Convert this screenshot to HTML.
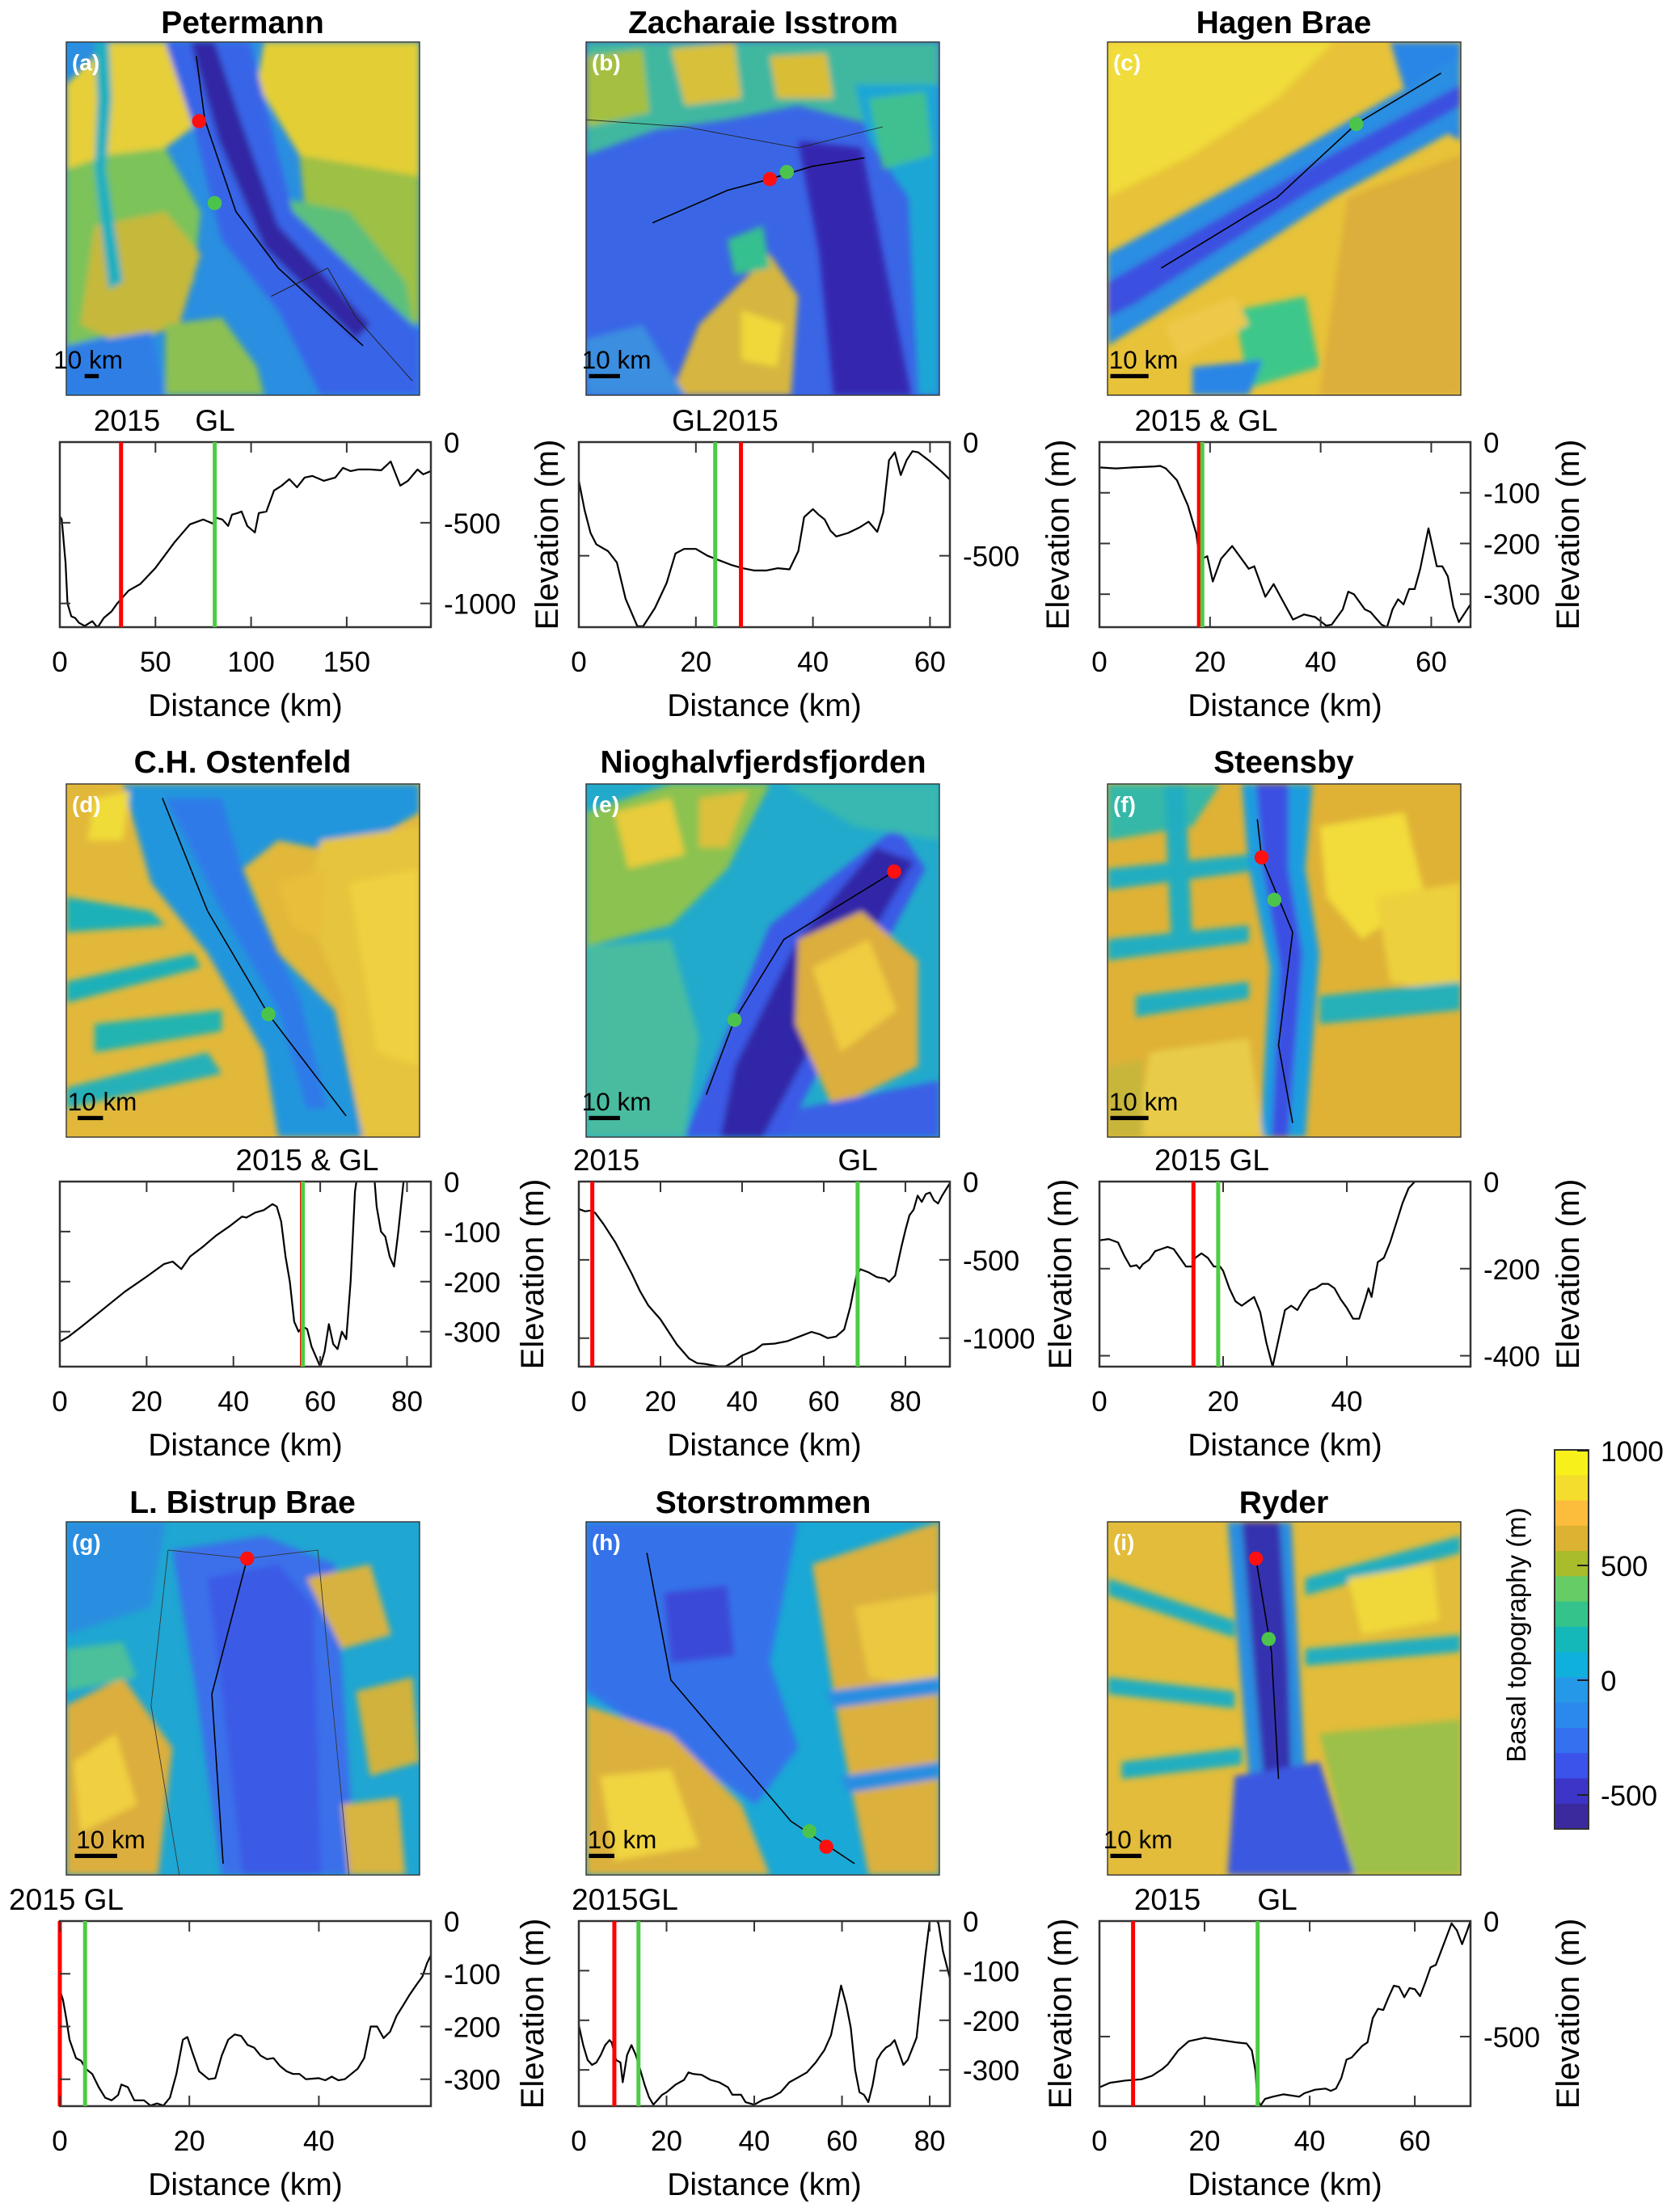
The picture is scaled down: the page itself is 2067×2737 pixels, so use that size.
<!DOCTYPE html>
<html><head><meta charset="utf-8"><style>
html,body{margin:0;padding:0;background:#fff}
svg{display:block;font-family:"Liberation Sans",Arial,sans-serif}
</style></head><body>
<svg id="fig" xmlns="http://www.w3.org/2000/svg" width="2067" height="2737" viewBox="0 0 2067 2737">
<defs>
<filter id="soft" x="-5%" y="-5%" width="110%" height="110%"><feGaussianBlur stdDeviation="2.2"/></filter>
<clipPath id="mclip"><rect x="0" y="0" width="250" height="250"/></clipPath>
</defs>
<g id="titles" font-weight="bold" font-size="39" text-anchor="middle">
<text x="300" y="41">Petermann</text>
<text x="944" y="41">Zacharaie Isstrom</text>
<text x="1588" y="41">Hagen Brae</text>
<text x="300" y="956">C.H. Ostenfeld</text>
<text x="944" y="956">Nioghalvfjerdsfjorden</text>
<text x="1588" y="956">Steensby</text>
<text x="300" y="1872">L. Bistrup Brae</text>
<text x="944" y="1872">Storstrommen</text>
<text x="1588" y="1872">Ryder</text>
</g>

<!-- Map (a) -->
<g transform="translate(82,52) scale(1.748)">
<g clip-path="url(#mclip)">
<rect width="250" height="250" fill="#2a8fe0"/>
<g filter="url(#soft)">
<polygon points="0,30 30,0 95,0 90,60 70,75 30,80 0,90" fill="#e6cf38"/>
<polygon points="0,90 30,80 70,75 95,120 90,170 60,200 0,215" fill="#7cc35a"/>
<polygon points="20,130 70,120 95,150 80,200 40,215 10,200" fill="#c6b83a"/>
<polygon points="70,200 110,195 135,230 140,250 70,250" fill="#8cc052"/>
<polygon points="0,215 60,205 70,250 0,250" fill="#2f7ee6"/>
<polygon points="140,0 250,0 250,110 200,100 165,80 135,30" fill="#e3cf36"/>
<polygon points="165,80 250,95 250,200 210,180 170,130" fill="#9ec044"/>
<polygon points="150,110 200,120 240,170 250,220 200,210 160,160" fill="#5cc07a"/>
<polygon points="160,160 250,210 250,250 190,250" fill="#2f7ee6"/>
<polygon points="20,0 30,0 32,40 28,90 40,170 30,175 20,90 22,40" fill="#1fb0bf"/>
<polygon points="70,0 130,0 160,120 250,205 250,250 180,250 150,190 110,140 90,60" fill="#3765e8"/>
<polygon points="88,0 105,0 125,60 150,130 215,200 205,210 140,145 108,70" fill="#3327a4"/>
</g>
<polyline points="92,10 98,55 120,120 150,160 210,215" fill="none" stroke="#000" stroke-width="0.9"/>
<polyline points="145,180 175,165 185,160 205,195 245,240" fill="none" stroke="#222" stroke-width="0.6"/>
<circle cx="94" cy="56" r="5" fill="#ff1010"/><circle cx="105" cy="114" r="5" fill="#4cc44c"/>
</g>
<rect width="250" height="250" fill="none" stroke="#333" stroke-width="0.8"/>
<text x="4" y="20" font-size="16" font-weight="bold" fill="#fff">(a)</text>
<text x="-9" y="231" font-size="18">10 km</text><rect x="13" y="235" width="10" height="3" fill="#000"/>
</g>

<!-- Map (b) -->
<g transform="translate(725,52) scale(1.748)">
<g clip-path="url(#mclip)">
<rect width="250" height="250" fill="#3a66e6"/>
<g filter="url(#soft)">
<polygon points="0,0 250,0 250,45 200,58 150,45 100,55 50,62 0,80" fill="#3fb8a0"/>
<polygon points="60,5 105,0 110,40 70,45" fill="#d8c03a"/>
<polygon points="130,10 170,8 175,40 135,40" fill="#d9bd36"/>
<polygon points="0,10 40,5 45,50 0,60" fill="#a5c040"/>
<polygon points="190,30 250,30 250,250 235,250 228,110 200,70" fill="#1ea6d6"/>
<polygon points="150,70 195,75 230,250 175,250 165,150" fill="#3528b0"/>
<polygon points="80,200 130,150 150,180 145,250 60,250" fill="#d6b640"/>
<polygon points="110,190 140,200 135,230 110,225" fill="#f0d83a"/>
<polygon points="0,210 40,200 70,250 0,250" fill="#3a8ee0"/>
<polygon points="100,140 125,130 130,160 105,165" fill="#36c090"/>
<polygon points="200,40 240,35 245,80 210,90" fill="#40c090"/>
</g>
<polyline points="47,128 100,105 130,97 160,88 197,82" fill="none" stroke="#000" stroke-width="0.9"/>
<polyline points="0,55 70,60 150,75 210,60" fill="none" stroke="#222" stroke-width="0.5"/>
<circle cx="130" cy="97" r="5" fill="#ff1010"/><circle cx="142" cy="92" r="5" fill="#4cc44c"/>
</g>
<rect width="250" height="250" fill="none" stroke="#333" stroke-width="0.8"/>
<text x="4" y="20" font-size="16" font-weight="bold" fill="#fff">(b)</text>
<text x="-3" y="231" font-size="18">10 km</text><rect x="2" y="235" width="22" height="3" fill="#000"/>
</g>

<!-- Map (c) -->
<g transform="translate(1370,52) scale(1.748)">
<g clip-path="url(#mclip)">
<rect width="250" height="250" fill="#e8c238"/>
<g filter="url(#soft)">
<polygon points="0,0 160,0 120,40 60,80 0,110" fill="#f0dc3a"/>
<polygon points="200,0 250,0 250,70 215,50" fill="#2a86e6"/>
<polygon points="0,150 120,85 250,10 250,60 160,110 40,190 0,215" fill="#2b8ee2"/>
<polygon points="0,170 130,95 250,30 250,45 140,108 20,185 0,195" fill="#3a50e0"/>
<polygon points="170,110 250,80 250,250 150,250" fill="#dcae3a"/>
<polygon points="90,190 140,180 150,230 100,245" fill="#3ec78a"/>
<polygon points="60,230 110,225 100,250 60,250" fill="#2a86e6"/>
<polygon points="40,200 90,180 100,200 50,225" fill="#eec84a"/>
</g>
<polyline points="38,160 120,110 176,58 236,22" fill="none" stroke="#000" stroke-width="0.9"/>
<circle cx="176" cy="58" r="5" fill="#4cc44c"/>
</g>
<rect width="250" height="250" fill="none" stroke="#333" stroke-width="0.8"/>
<text x="4" y="20" font-size="16" font-weight="bold" fill="#fff">(c)</text>
<text x="1" y="231" font-size="18">10 km</text><rect x="2" y="235" width="27" height="3" fill="#000"/>
</g>

<!-- Map (d) -->
<g transform="translate(82,970) scale(1.748)">
<g clip-path="url(#mclip)">
<rect width="250" height="250" fill="#e2b83a"/>
<g filter="url(#soft)">
<polygon points="40,0 250,0 250,20 200,50 150,40 125,60 150,120 190,160 210,250 150,250 140,190 100,120 60,70" fill="#2096dc"/>
<polygon points="70,10 110,10 130,80 165,150 185,230 170,230 150,160 110,90" fill="#2f7ae8"/>
<polygon points="0,80 60,90 70,100 0,105" fill="#1eb0b8"/>
<polygon points="0,140 90,120 95,130 0,155" fill="#1eb0b8"/>
<polygon points="20,170 110,160 110,175 20,190" fill="#22b4b0"/>
<polygon points="0,215 100,190 110,205 0,230" fill="#28b0b8"/>
<polygon points="180,40 250,30 250,250 210,250 195,150 170,90" fill="#e6c43c"/>
<polygon points="200,70 250,60 250,200 220,190" fill="#eed040"/>
<polygon points="150,70 185,60 180,110 160,100" fill="#e8bf3a"/>
<polygon points="20,10 45,5 40,40 15,40" fill="#f0dc38"/>
</g>
<polyline points="68,10 100,90 143,163 198,235" fill="none" stroke="#000" stroke-width="0.9"/>
<circle cx="143" cy="163" r="5" fill="#4cc44c"/>
</g>
<rect width="250" height="250" fill="none" stroke="#333" stroke-width="0.8"/>
<text x="4" y="20" font-size="16" font-weight="bold" fill="#fff">(d)</text>
<text x="1" y="231" font-size="18">10 km</text><rect x="8" y="235" width="18" height="3" fill="#000"/>
</g>

<!-- Map (e) -->
<g transform="translate(725,970) scale(1.748)">
<g clip-path="url(#mclip)">
<rect width="250" height="250" fill="#22aacc"/>
<g filter="url(#soft)">
<polygon points="0,20 60,0 130,0 100,60 60,100 0,115" fill="#8cc250"/>
<polygon points="20,20 60,10 70,50 30,60" fill="#e8cc3a"/>
<polygon points="80,10 115,5 100,45 80,45" fill="#dcc03a"/>
<polygon points="0,115 60,110 80,180 70,250 0,250" fill="#48bca0"/>
<polygon points="70,250 140,250 240,60 220,30 130,100" fill="#3a5ae6"/>
<polygon points="95,250 125,250 200,110 232,55 205,45 150,110 105,200" fill="#3228a8"/>
<polygon points="150,110 195,90 235,125 235,200 175,230 148,170" fill="#dcae3e"/>
<polygon points="160,130 200,110 220,160 180,190" fill="#f0cc40"/>
<polygon points="140,0 250,0 250,40 190,30" fill="#38b8b0"/>
<polygon points="150,230 250,210 250,250 140,250" fill="#3a60e6"/>
</g>
<polyline points="85,220 105,167 140,110 218,62" fill="none" stroke="#000" stroke-width="0.9"/>
<circle cx="218" cy="62" r="5" fill="#ff1010"/><circle cx="105" cy="167" r="5" fill="#4cc44c"/>
</g>
<rect width="250" height="250" fill="none" stroke="#333" stroke-width="0.8"/>
<text x="4" y="20" font-size="16" font-weight="bold" fill="#fff">(e)</text>
<text x="-3" y="231" font-size="18">10 km</text><rect x="2" y="235" width="22" height="3" fill="#000"/>
</g>

<!-- Map (f) -->
<g transform="translate(1370,970) scale(1.748)">
<g clip-path="url(#mclip)">
<rect width="250" height="250" fill="#dfb236"/>
<g filter="url(#soft)">
<polygon points="0,0 80,0 60,30 0,40" fill="#36b8a8"/>
<polygon points="0,60 100,50 100,62 0,75" fill="#22aec0"/>
<polygon points="0,110 100,100 100,112 0,125" fill="#22aec0"/>
<polygon points="20,150 100,140 100,152 20,165" fill="#22aec0"/>
<polygon points="40,0 55,0 60,110 45,110" fill="#22aec0"/>
<polygon points="95,0 145,0 140,60 150,120 140,250 108,250 115,130 100,60" fill="#1f9ede"/>
<polygon points="105,0 128,0 128,60 138,120 128,250 116,250 122,130 110,60" fill="#3a50e2"/>
<polygon points="150,30 210,20 225,80 180,110 155,80" fill="#f2dc3a"/>
<polygon points="190,80 250,70 250,150 200,140" fill="#ecd03c"/>
<polygon points="30,190 100,180 110,250 20,250" fill="#e8cc48"/>
<polygon points="150,150 250,140 250,160 150,170" fill="#28b0b8"/>
<polygon points="0,200 25,195 25,250 0,250" fill="#c8b63a"/>
</g>
<polyline points="106,25 109,52 131,105 121,185 131,240" fill="none" stroke="#000" stroke-width="0.9"/>
<circle cx="109" cy="52" r="5" fill="#ff1010"/><circle cx="118" cy="82" r="5" fill="#4cc44c"/>
</g>
<rect width="250" height="250" fill="none" stroke="#333" stroke-width="0.8"/>
<text x="4" y="20" font-size="16" font-weight="bold" fill="#fff">(f)</text>
<text x="1" y="231" font-size="18">10 km</text><rect x="2" y="235" width="27" height="3" fill="#000"/>
</g>

<!-- Map (g) -->
<g transform="translate(82,1883) scale(1.748)">
<g clip-path="url(#mclip)">
<rect width="250" height="250" fill="#1fa6d2"/>
<g filter="url(#soft)">
<polygon points="0,0 70,0 60,60 0,80" fill="#2a8ee0"/>
<polygon points="0,130 40,110 75,160 65,250 0,250" fill="#dcae3c"/>
<polygon points="5,170 35,150 50,200 10,220" fill="#f0d040"/>
<polygon points="75,20 140,10 190,30 205,250 110,250 92,120" fill="#3a70ea"/>
<polygon points="100,40 150,30 175,60 180,250 125,250 110,120" fill="#3a5ae6"/>
<polygon points="170,40 215,30 230,80 195,90" fill="#d8b240"/>
<polygon points="205,120 245,110 250,170 215,180" fill="#d0b23e"/>
<polygon points="195,200 235,195 240,250 200,250" fill="#d8b440"/>
<polygon points="0,90 40,85 50,110 0,120" fill="#4cc09a"/>
</g>
<polyline points="128,26 103,122 111,242" fill="none" stroke="#000" stroke-width="0.9"/>
<polyline points="72,20 128,26 178,20 200,250" fill="none" stroke="#333" stroke-width="0.5"/>
<polyline points="72,20 60,130 80,250" fill="none" stroke="#333" stroke-width="0.5"/>
<circle cx="128" cy="26" r="5" fill="#ff1010"/>
</g>
<rect width="250" height="250" fill="none" stroke="#333" stroke-width="0.8"/>
<text x="4" y="20" font-size="16" font-weight="bold" fill="#fff">(g)</text>
<text x="7" y="231" font-size="18">10 km</text><rect x="6" y="235" width="30" height="3" fill="#000"/>
</g>

<!-- Map (h) -->
<g transform="translate(725,1883) scale(1.748)">
<g clip-path="url(#mclip)">
<rect width="250" height="250" fill="#1aa8d6"/>
<g filter="url(#soft)">
<polygon points="0,0 150,0 130,100 150,160 120,200 60,160 0,120" fill="#3472ea"/>
<polygon points="55,50 100,45 105,95 60,100" fill="#3a48d8"/>
<polygon points="0,130 60,150 110,200 130,250 0,250" fill="#dcb03c"/>
<polygon points="10,180 60,175 80,230 20,240" fill="#f0d440"/>
<polygon points="160,30 250,0 250,250 200,250 180,150" fill="#dcb03c"/>
<polygon points="190,60 250,50 250,120 200,110" fill="#ecc840"/>
<polygon points="170,120 250,110 250,122 175,132" fill="#2a8ee0"/>
<polygon points="180,180 250,170 250,182 185,192" fill="#2a8ee0"/>
</g>
<polyline points="43,22 60,112 145,212 190,242" fill="none" stroke="#000" stroke-width="0.9"/>
<circle cx="158" cy="219" r="5" fill="#4cc44c"/><circle cx="170" cy="230" r="5" fill="#ff1010"/>
</g>
<rect width="250" height="250" fill="none" stroke="#333" stroke-width="0.8"/>
<text x="4" y="20" font-size="16" font-weight="bold" fill="#fff">(h)</text>
<text x="1" y="231" font-size="18">10 km</text><rect x="2" y="235" width="18" height="3" fill="#000"/>
</g>

<!-- Map (i) -->
<g transform="translate(1370,1883) scale(1.748)">
<g clip-path="url(#mclip)">
<rect width="250" height="250" fill="#e2bc3a"/>
<g filter="url(#soft)">
<polygon points="0,40 90,70 90,82 0,52" fill="#22aec0"/>
<polygon points="0,110 90,120 90,132 0,122" fill="#22aec0"/>
<polygon points="140,40 250,10 250,22 140,52" fill="#22aec0"/>
<polygon points="140,90 250,80 250,92 140,102" fill="#22aec0"/>
<polygon points="10,170 95,160 95,172 10,182" fill="#22aec0"/>
<polygon points="85,0 130,0 140,180 100,180" fill="#2a8ee0"/>
<polygon points="95,0 122,0 128,100 130,180 112,200 105,120" fill="#3530b0"/>
<polygon points="90,180 150,170 175,250 85,250" fill="#3a58e0"/>
<polygon points="150,150 250,140 250,250 175,250" fill="#9cc048"/>
<polygon points="170,40 230,30 235,70 180,80" fill="#f0d83a"/>
</g>
<polyline points="105,26 116,92 121,182" fill="none" stroke="#000" stroke-width="0.9"/>
<circle cx="105" cy="26" r="5" fill="#ff1010"/><circle cx="114" cy="83" r="5" fill="#4cc44c"/>
</g>
<rect width="250" height="250" fill="none" stroke="#333" stroke-width="0.8"/>
<text x="4" y="20" font-size="16" font-weight="bold" fill="#fff">(i)</text>
<text x="-3" y="231" font-size="18">10 km</text><rect x="2" y="235" width="22" height="3" fill="#000"/>
</g>

<!-- Colorbar -->
<g id="colorbar">
<text transform="translate(1887,2023) rotate(-90)" text-anchor="middle" font-size="33">Basal topography (m)</text>
</g>
<g id="charts"></g>
</svg>
<script>
// ---- data ----
const profA_km = [0,1,3,4,6,8,10,13,17,19,20,23,25,27,30,33,36,42,50,60,68,75,80,82,85,88,90,93,95,98,102,104,108,112,116,120,124,128,132,138,144,148,152,156,162,168,173,178,182,187,190,194];
const profA_m = [-460,-480,-750,-1000,-1080,-1090,-1120,-1140,-1110,-1140,-1145,-1090,-1070,-1050,-1000,-960,-920,-880,-780,-620,-510,-480,-505,-470,-480,-520,-450,-440,-430,-520,-560,-440,-430,-300,-270,-230,-280,-220,-210,-240,-220,-160,-180,-170,-170,-175,-120,-270,-240,-170,-200,-180];
const profB_km = [0,1,2,3,5,6.5,8,10,11,13,15,16.5,18,20,22,24,26,28,30,32,34,36,37.5,38.5,40,41,42,43,44,46,48,49.5,51,52,53,54,55,56,57,58,60,62,63.4];
const profB_m = [-170,-300,-400,-450,-480,-530,-690,-810,-810,-730,-620,-490,-470,-470,-500,-520,-540,-555,-565,-565,-555,-560,-480,-330,-295,-320,-340,-390,-415,-400,-375,-350,-395,-310,-80,-45,-145,-80,-40,-45,-85,-130,-165];
const profC_km = [0,3,6,10,11,12,14,16,17.5,18,18.6,19.5,20.5,22,24,26,27,28,30,31.5,33,35,37,39,41,42,44,45,46,48,49,51,52,53,54,55,56,57,58,59.5,61,62,63,64,65,67.1];
const profC_m = [-50,-52,-50,-48,-47,-52,-75,-125,-180,-220,-230,-225,-275,-230,-205,-235,-250,-245,-305,-280,-310,-350,-340,-345,-362,-360,-330,-295,-300,-330,-335,-360,-365,-330,-310,-320,-290,-290,-250,-170,-245,-245,-265,-325,-355,-320];
const profD_km = [0,2,5,10,15,20,24,26,28,30,33,36,39,42,43,45,47,49,50,51,52,53,54,55,56,57,58,60,61,62,63,64,65,66,67,68,68.5,72,72.5,73,74,75,76,77,78,79.2,80];
const profD_m = [-320,-310,-290,-255,-220,-190,-165,-160,-175,-150,-130,-108,-90,-70,-72,-62,-57,-45,-50,-80,-150,-200,-280,-300,-290,-295,-330,-370,-340,-285,-325,-335,-300,-315,-200,-20,10,20,5,-50,-100,-110,-150,-170,-100,0,20];
const profE_km = [0,1.5,3,4,6,9,11,13,15,17,20,22,24,27,29,31,34,36,38,40,43,45,48,51,54,57,59,61,63,65,66.5,68,69,71,73,75,76,77.5,79,80,81,82,83,84,85,86,87,88,89,90.9];
const profE_m = [-175,-190,-185,-200,-270,-390,-490,-590,-700,-790,-880,-960,-1040,-1130,-1160,-1165,-1180,-1180,-1150,-1110,-1080,-1040,-1035,-1020,-990,-960,-975,-1000,-990,-945,-800,-600,-560,-580,-610,-620,-640,-600,-420,-310,-215,-180,-90,-130,-80,-70,-120,-140,-90,-10];
const profF_km = [0,1.5,3,4,5,6,6.5,7,8,9,10,11,12,13,14,15,15.5,16.5,17.5,18.5,19.5,20,21,22,23,24,25,26,27,28,29,30,31,32,33,34,35,36,37,38,39,40,41,42,43,43.5,44,45,46,47,48,49,50,51];
const profF_m = [-135,-132,-140,-170,-195,-192,-200,-190,-180,-160,-155,-150,-155,-175,-195,-195,-175,-165,-175,-195,-195,-205,-245,-275,-285,-275,-265,-300,-370,-425,-360,-295,-285,-295,-270,-250,-245,-235,-235,-245,-270,-290,-315,-315,-270,-245,-265,-185,-175,-140,-95,-50,-15,0];
const profG_km = [0,0.5,1,1.5,2.5,3.3,4,5,6,7,8,9,9.5,10.5,11.5,13,14,15,16,17,18,19,19.7,20.5,21.5,23,24,25,26,27,28,29,30,31,32,33,34,35,36,37,38,40,41,42,43,44,45,46,47,48,49,50,51,52,53,54,55,56,56.7,57.3];
const profG_m = [-130,-150,-185,-225,-260,-265,-280,-290,-315,-335,-340,-330,-310,-315,-340,-340,-350,-346,-350,-335,-290,-225,-220,-250,-285,-300,-298,-255,-225,-215,-218,-235,-240,-255,-262,-260,-275,-285,-290,-290,-300,-298,-302,-295,-302,-300,-290,-280,-260,-200,-200,-222,-210,-180,-160,-140,-122,-105,-80,-65];
const profH_km = [0,1,2,3,4,5,6,7,7.5,8.5,9.5,10,11,12,13,14,15,16,17,18,19,20,22,24,25,26,28,30,32,34,35,37,38,40,42,44,46,48,50,52,54,56,57.5,59,59.8,61,62,63,64,65,66,67,68,69,70,71,72,73,74,75,77,78,79,80,81,82,83,84.6];
const profH_m = [-210,-250,-280,-290,-285,-270,-250,-240,-245,-280,-285,-325,-270,-250,-270,-300,-330,-355,-370,-360,-350,-345,-330,-320,-305,-308,-310,-320,-325,-335,-350,-350,-365,-370,-360,-355,-345,-325,-315,-305,-285,-260,-230,-165,-130,-170,-215,-300,-345,-350,-365,-330,-280,-265,-255,-250,-240,-265,-290,-280,-235,-150,-70,0,10,-5,-60,-115];
const profI_km = [0,2,5,8,10,12,13,15,17,20,23,26,28,29,29.7,30,30.6,31.5,33,35,38,39,41,43,44,45,46,47,48,50,51,52,53,54,55,56,57,58,59,60,61,62,63,64,65,66,67,68,69,70,70.6];
const profI_m = [-720,-700,-690,-685,-670,-640,-620,-560,-520,-505,-515,-525,-530,-560,-650,-760,-800,-770,-760,-750,-760,-745,-730,-725,-735,-725,-680,-600,-590,-540,-525,-420,-380,-385,-330,-280,-285,-330,-290,-295,-325,-265,-200,-190,-130,-70,-10,-40,-100,-40,0];
const line2015_km = [32,27.7,18.0,55.8,3.3,15.2,0,8.1,6.4];
const lineGL_km = [81,23.3,18.6,56,68.3,19.2,3.9,13.6,30.1];
const xMaxKm = [194,63.4,67.1,85.5,90.9,60,57.3,84.6,70.6];
const yMinM = [-1147,-814,-365,-370,-1182,-425,-351,-373,-801];
const xTickVals = [[0,50,100,150],[0,20,40,60],[0,20,40,60],[0,20,40,60,80],[0,20,40,60,80],[0,20,40],[0,20,40],[0,20,40,60,80],[0,20,40,60]];
const yTickVals = [[0,-500,-1000],[0,-500],[0,-100,-200,-300],[0,-100,-200,-300],[0,-500,-1000],[0,-200,-400],[0,-100,-200,-300],[0,-100,-200,-300],[0,-500]];
const markerTexts = [["2015","GL"],["GL2015"],["2015 & GL"],["2015 & GL"],["2015","GL"],["2015 GL"],["2015 GL"],["2015GL"],["2015","GL"]];
const colorbarColors = ["#f8f01a","#f4dd2c","#fdbd3c","#dcb232","#a8bc2c","#66cc66","#35c38c","#14b8b8","#0fb0dc","#2698e8","#2b88ec","#3570f0","#3b53ea","#3c35c8","#3a2a9e"];
const colorbarTicks = [1000,500,0,-500];

const profKm = [profA_km,profB_km,profC_km,profD_km,profE_km,profF_km,profG_km,profH_km,profI_km];
const profM = [profA_m,profB_m,profC_m,profD_m,profE_m,profF_m,profG_m,profH_m,profI_m];

// ---- layout ----
const NS = "http://www.w3.org/2000/svg";
const colX = [74,716,1360], rowY = [547,1462,2377], AW = 459, AH = 229;
const markerX = [[157,266],[897],[1492],[380],[750,1061],[1499],[82],[773],[1444,1580]];
const elevX = [[690,1322,1953],[672,1325,1953],[672,1325,1953]];
const names = "abcdefghi";
const root = document.getElementById('charts');
function mk(tag, attrs, parent){
  const e = document.createElementNS(NS, tag);
  for (const k in attrs) e.setAttribute(k, attrs[k]);
  (parent||root).appendChild(e);
  return e;
}
for (let p=0;p<9;p++){
  const x0 = colX[p%3], y0 = rowY[Math.floor(p/3)];
  const sx = v => x0 + v/xMaxKm[p]*AW;
  const sy = v => y0 + v/yMinM[p]*AH;
  const g = mk('g',{});
  
  
  const cp = mk('clipPath',{id:'cp'+p}, g);
  mk('rect',{x:x0,y:y0,width:AW,height:AH}, cp);
  let d = '';
  profKm[p].forEach((k,i)=>{ d += (i?'L':'M') + sx(k).toFixed(1) + ',' + sy(profM[p][i]).toFixed(1); });
  const path = mk('path',{d:d,fill:'none',stroke:'#000','stroke-width':2.2,'clip-path':'url(#cp'+p+')','stroke-linejoin':'round'}, g);
  
  
  const frame = mk('rect',{x:x0,y:y0,width:AW,height:AH,fill:'none',stroke:'#333','stroke-width':2.5}, g);
  
  
  const red = mk('line',{x1:sx(line2015_km[p]),x2:sx(line2015_km[p]),y1:y0,y2:y0+AH,stroke:'#ff0000','stroke-width':5}, g);
  
  
  const grn = mk('line',{x1:sx(lineGL_km[p]),x2:sx(lineGL_km[p]),y1:y0,y2:y0+AH,stroke:'#4ccc44','stroke-width':5}, g);
  
  
  xTickVals[p].forEach(t=>{
    const X = sx(t);
    mk('line',{x1:X,x2:X,y1:y0,y2:y0+13,stroke:'#333','stroke-width':2}, g);
    mk('line',{x1:X,x2:X,y1:y0+AH,y2:y0+AH-13,stroke:'#333','stroke-width':2}, g);
    const tl = mk('text',{x:X,y:y0+AH+55,'text-anchor':'middle','font-size':35}, g);
    
    
    tl.textContent = t;
  });
  yTickVals[p].forEach(t=>{
    const Y = sy(t);
    mk('line',{x1:x0,x2:x0+13,y1:Y,y2:Y,stroke:'#333','stroke-width':2}, g);
    mk('line',{x1:x0+AW,x2:x0+AW-13,y1:Y,y2:Y,stroke:'#333','stroke-width':2}, g);
    const tl = mk('text',{x:x0+AW+16,y:Y+13,'font-size':35}, g);
    
    
    tl.textContent = t;
  });
  const xl = mk('text',{x:x0+AW/2,y:y0+AH+110,'text-anchor':'middle','font-size':39}, g);
  
  
  xl.textContent = 'Distance (km)';
  markerTexts[p].forEach((s,i)=>{
    const mt = mk('text',{x:markerX[p][i],y:y0-14,'text-anchor':'middle','font-size':37}, g);
    
    
    mt.textContent = s;
  });
  const ex = elevX[Math.floor(p/3)][p%3];
  const yl = mk('text',{transform:'translate('+ex+','+(y0+AH/2)+') rotate(-90)','text-anchor':'middle','font-size':40}, g);
  
  
  yl.textContent = 'Elevation (m)';
}
// colorbar
const cb = document.getElementById('colorbar');
const cbX = 1923, cbY = 1794, cbW = 42, cbH = 469;
const bandH = cbH / colorbarColors.length;
colorbarColors.forEach((c,i)=>{
  const r = mk('rect',{x:cbX,y:cbY+i*bandH,width:cbW,height:bandH+0.5,fill:c}, cb);
  
  
});
mk('rect',{x:cbX,y:cbY,width:cbW,height:cbH,fill:'none',stroke:'#333','stroke-width':2}, cb);
const cbScale = v => cbY + (1000 - v) * (142/500);
colorbarTicks.forEach(t=>{
  const Y = cbScale(t) + 1;
  mk('line',{x1:cbX+cbW-14,x2:cbX+cbW,y1:Y,y2:Y,stroke:'#222','stroke-width':2}, cb);
  const tl = mk('text',{x:1980,y:Y+13,'font-size':35}, cb);
  
  
  tl.textContent = t;
});
</script>
</body></html>
